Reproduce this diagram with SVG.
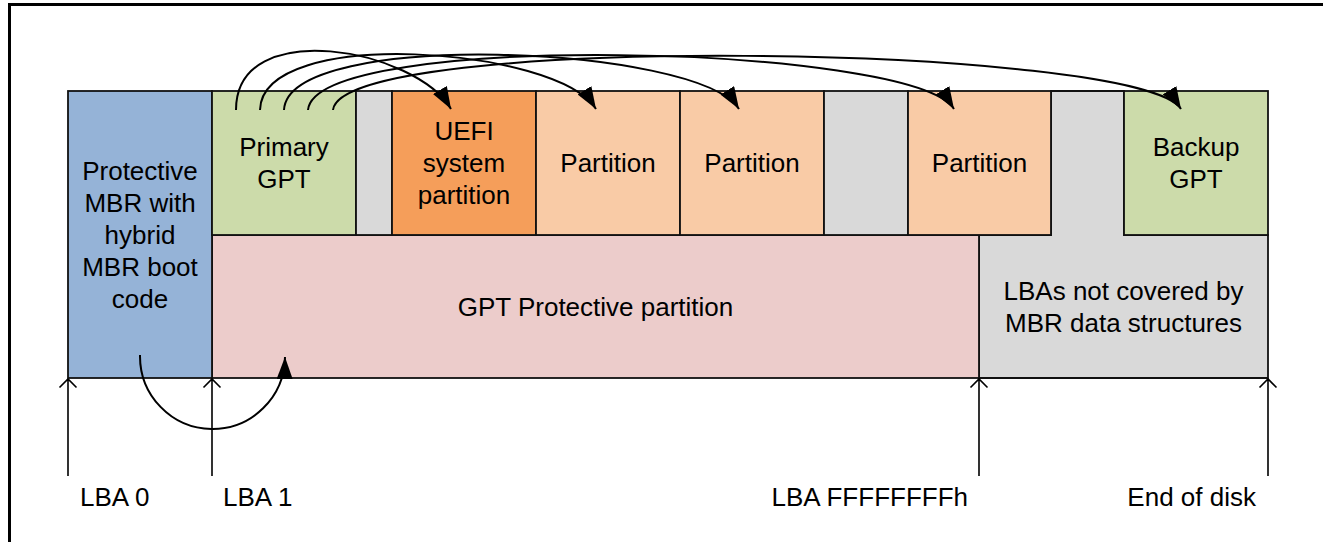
<svg xmlns="http://www.w3.org/2000/svg" width="1323" height="542" viewBox="0 0 1323 542">
<style>
.box{stroke:#111;stroke-width:1.8}
.t{font-family:"Liberation Sans",Arial,sans-serif;font-size:26px;fill:#000;text-anchor:middle}
.l{font-family:"Liberation Sans",Arial,sans-serif;font-size:26px;fill:#000}
.c{fill:none;stroke:#000;stroke-width:2}
.v{fill:none;stroke:#000;stroke-width:1.6}
</style>
<defs>
<marker id="ah" viewBox="0 0 22 16" refX="22" refY="8" markerWidth="22" markerHeight="16" markerUnits="userSpaceOnUse" orient="auto">
<path d="M0,0 L22,8 L0,16 z" fill="#000"/>
</marker>
</defs>
<rect width="1323" height="542" fill="#fff"/>
<path d="M9.5,542 V4.5 H1323" fill="none" stroke="#000" stroke-width="3"/>

<g id="lbas-not-covered">
<path class="box" fill="#d9d9d9" d="M1051,91 H1124 V235 H1268 V378 H979 V235 H1051 Z"/>
<text class="t" x="1123.5" y="300">LBAs not covered by</text>
<text class="t" x="1123.5" y="332">MBR data structures</text>
</g>
<g id="gpt-protective">
<rect class="box" x="212" y="235" width="767" height="143" fill="#eccccb"/>
<text class="t" x="595.5" y="316">GPT Protective partition</text>
</g>
<g id="protective-mbr">
<rect class="box" x="68" y="91" width="144" height="287" fill="#95b3d7"/>
<text class="t" x="140" y="180">Protective</text>
<text class="t" x="140" y="212">MBR with</text>
<text class="t" x="140" y="244">hybrid</text>
<text class="t" x="140" y="276">MBR boot</text>
<text class="t" x="140" y="308">code</text>
</g>
<g id="primary-gpt">
<rect class="box" x="212" y="91" width="144" height="144" fill="#ccdbaa"/>
<text class="t" x="284" y="156">Primary</text>
<text class="t" x="284" y="188">GPT</text>
</g>
<g id="gap-1">
<rect class="box" x="356" y="91" width="36" height="144" fill="#d9d9d9"/>
</g>
<g id="uefi">
<rect class="box" x="392" y="91" width="144" height="144" fill="#f59e5a"/>
<text class="t" x="464" y="140">UEFI</text>
<text class="t" x="464" y="172">system</text>
<text class="t" x="464" y="204">partition</text>
</g>
<g id="partition-1">
<rect class="box" x="536" y="91" width="144" height="144" fill="#f9cba6"/>
<text class="t" x="608" y="172">Partition</text>
</g>
<g id="partition-2">
<rect class="box" x="680" y="91" width="144" height="144" fill="#f9cba6"/>
<text class="t" x="752" y="172">Partition</text>
</g>
<g id="gap-2">
<rect class="box" x="824" y="91" width="84" height="144" fill="#d9d9d9"/>
</g>
<g id="partition-3">
<rect class="box" x="908" y="91" width="143" height="144" fill="#f9cba6"/>
<text class="t" x="979.5" y="172">Partition</text>
</g>
<g id="backup-gpt">
<rect class="box" x="1124" y="91" width="144" height="144" fill="#ccdbaa"/>
<text class="t" x="1196" y="156">Backup</text>
<text class="t" x="1196" y="188">GPT</text>
</g>

<g id="connectors">
<path class="c" marker-end="url(#ah)" d="M236,110 C236,15 416,49 451,109"/>
<path class="c" marker-end="url(#ah)" d="M260,110 C262,25 558,47 596,109"/>
<path class="c" marker-end="url(#ah)" d="M284,110 C288,28 699,45 739,109"/>
<path class="c" marker-end="url(#ah)" d="M308,110 C315,30 914,44 954,109"/>
<path class="c" marker-end="url(#ah)" d="M333,110 C342,32 1141,44 1181,109"/>
<path class="c" marker-end="url(#ah)" d="M140,355 A72.5,73 0 0 0 285,357"/>
<path class="v" d="M68,476 V379 M59.5,387.5 L68,379 L76.5,387.5"/>
<path class="v" d="M212,476 V379 M203.5,387.5 L212,379 L220.5,387.5"/>
<path class="v" d="M979,476 V379 M970.5,387.5 L979,379 L987.5,387.5"/>
<path class="v" d="M1268,476 V379 M1259.5,387.5 L1268,379 L1276.5,387.5"/>
</g>

<g id="labels">
<text class="l" x="80" y="506">LBA 0</text>
<text class="l" x="223" y="506">LBA 1</text>
<text class="l" x="968" y="506" text-anchor="end">LBA FFFFFFFFh</text>
<text class="l" x="1256" y="506" text-anchor="end">End of disk</text>
</g>
</svg>
